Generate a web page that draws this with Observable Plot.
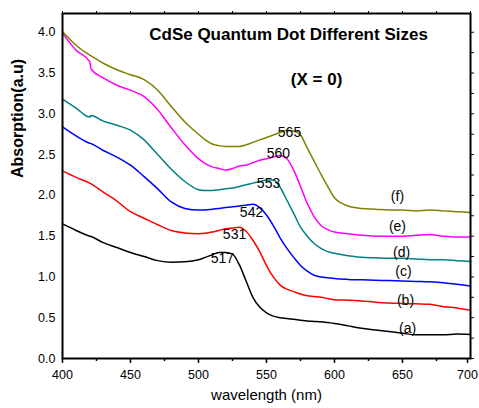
<!DOCTYPE html>
<html><head><meta charset="utf-8">
<script src="https://cdn.jsdelivr.net/npm/d3@7"></script>
<script src="https://cdn.jsdelivr.net/npm/@observablehq/plot@0.6"></script>
<style>body{margin:0;background:#fff;} svg{display:block;}</style>
</head><body><div id="chart"></div>
<script>
const wavelength = [400,410,420,421,430,440,450,460,470,480,490,500,505,510,515,520,525,530,535,540,545,550,555,560,565,570,575,580,585,590,595,600,610,620,630,640,650,660,670,680,690,700];
const absA = [1.65,1.57,1.50,1.495,1.42,1.36,1.30,1.25,1.20,1.18,1.185,1.21,1.24,1.27,1.30,1.30,1.28,1.15,0.95,0.75,0.63,0.56,0.52,0.50,0.49,0.48,0.47,0.46,0.455,0.45,0.44,0.43,0.40,0.37,0.35,0.33,0.31,0.29,0.29,0.29,0.30,0.295];
const absB = [2.30,2.22,2.15,2.14,2.04,1.93,1.80,1.72,1.64,1.57,1.54,1.53,1.535,1.55,1.57,1.59,1.60,1.61,1.56,1.45,1.31,1.14,1.00,0.90,0.85,0.82,0.79,0.77,0.76,0.75,0.735,0.72,0.715,0.705,0.69,0.68,0.675,0.67,0.665,0.635,0.62,0.59];
const absC = [2.84,2.73,2.64,2.635,2.55,2.47,2.37,2.23,2.08,1.92,1.84,1.82,1.82,1.83,1.84,1.85,1.86,1.87,1.88,1.89,1.85,1.76,1.63,1.48,1.35,1.24,1.14,1.07,1.02,1.00,0.99,0.98,0.97,0.965,0.96,0.955,0.95,0.945,0.94,0.93,0.91,0.89];
const absD = [3.18,3.07,2.96,2.98,2.91,2.86,2.80,2.68,2.50,2.32,2.17,2.07,2.06,2.06,2.07,2.08,2.09,2.11,2.13,2.15,2.17,2.19,2.19,2.10,1.94,1.78,1.61,1.50,1.41,1.35,1.31,1.29,1.26,1.24,1.235,1.23,1.23,1.22,1.21,1.21,1.20,1.19];
const absE = [3.99,3.78,3.64,3.55,3.44,3.35,3.29,3.21,3.05,2.83,2.62,2.45,2.39,2.35,2.33,2.31,2.33,2.36,2.37,2.40,2.43,2.45,2.47,2.49,2.45,2.31,2.11,1.90,1.74,1.63,1.58,1.55,1.53,1.51,1.50,1.50,1.50,1.51,1.52,1.50,1.49,1.49];
const absF = [4.01,3.84,3.72,3.71,3.62,3.54,3.48,3.42,3.29,3.09,2.90,2.75,2.68,2.63,2.61,2.60,2.60,2.60,2.62,2.65,2.68,2.71,2.74,2.77,2.80,2.79,2.74,2.58,2.42,2.26,2.11,1.97,1.87,1.84,1.83,1.82,1.82,1.81,1.82,1.81,1.80,1.79];

const seriesNames = ["(a)","(b)","(c)","(d)","(e)","(f)"];
const seriesValues = [absA, absB, absC, absD, absE, absF];
const seriesColors = ["#000000","#ff0000","#0000ff","#008080","#ff00ff","#808000"];
const tagX = [653.7,652.2,650.7,649.3,646.3,646.3];
const tagY = [0.37,0.715,1.07,1.30,1.62,1.98];

const peakLabels = ["517","531","542","553","560","565"];
const peakX = [517.6,526.5,539,551.5,558.8,566.9];
const peakY = [1.22,1.525,1.795,2.15,2.51,2.77];

const xTicks = [400,450,500,550,600,650];
const xLastTick = [700];
const xMinor = [425,475,525,575,625,675];
const yTicks = [0,0.5,1,1.5,2,2.5,3,3.5,4];

const titleText = "CdSe Quantum Dot Different Sizes";
const subtitleText = "(X = 0)";
const xLabel = "wavelength (nm)";
const yLabel = "Absorption(a.u)";

const rows = [];
seriesNames.forEach((s, i) => wavelength.forEach((w, j) => rows.push({series: s, wl: w, abs: seriesValues[i][j]})));
const tags = seriesNames.map((s, i) => ({text: s, x: tagX[i], y: tagY[i]}));
const peaks = peakLabels.map((t, i) => ({text: t, x: peakX[i], y: peakY[i]}));

const chart = Plot.plot({
  width: 479, height: 408,
  marginLeft: 62, marginRight: 9, marginTop: 13, marginBottom: 50,
  style: {fontFamily: "'Liberation Sans', Arial, sans-serif", fontSize: "12.5px", color: "#000", background: "#fff"},
  x: {domain: [400, 700]},
  y: {domain: [0, 4.23]},
  color: {domain: seriesNames, range: seriesColors},
  marks: [
    Plot.line(rows, {x: "wl", y: "abs", z: "series", stroke: "series", strokeWidth: 1.5, curve: "monotone-x"}),
    Plot.axisX({ticks: xTicks, tickSize: 5, tickPadding: 7, label: null, tickFormat: d => d, strokeWidth: 1.5}),
    Plot.axisX({ticks: xLastTick, tickSize: 5, tickPadding: 7, label: null, tickFormat: d => d, strokeWidth: 1.5, dx: -3}),
    Plot.axisX({ticks: xMinor, tickSize: 3, tickFormat: () => "", label: null, strokeWidth: 1.5}),
    Plot.axisX({anchor: "top", ticks: d3.range(400, 701, 25), tickSize: 3, tickFormat: () => "", label: null}),
    Plot.axisY({ticks: yTicks, tickSize: 0, tickPadding: 7, label: null, tickFormat: d3.format(".1f")}),
    Plot.axisY({anchor: "right", ticks: d3.range(0, 4.01, 0.25), tickSize: 3, tickFormat: () => "", label: null}),
    Plot.frame({stroke: "#000", strokeWidth: 2}),
    Plot.text(peaks, {x: "x", y: "y", text: "text", fontSize: 14, fill: "#000"}),
    Plot.text(tags, {x: "x", y: "y", text: "text", fontSize: 14, fill: "#000"}),
    Plot.text([titleText], {x: 566.2, y: 3.967, text: d => d, fontSize: 17, fontWeight: "bold"}),
    Plot.text([subtitleText], {x: 586.8, y: 3.415, text: d => d, fontSize: 17, fontWeight: "bold"}),
    Plot.text([yLabel], {frameAnchor: "left", rotate: -90, dx: -45, dy: -8, fontSize: 16, fontWeight: "bold"}),
    Plot.text([xLabel], {frameAnchor: "bottom", dy: 41, fontSize: 15})
  ]
});
document.getElementById("chart").appendChild(chart);
</script>
</body></html>
